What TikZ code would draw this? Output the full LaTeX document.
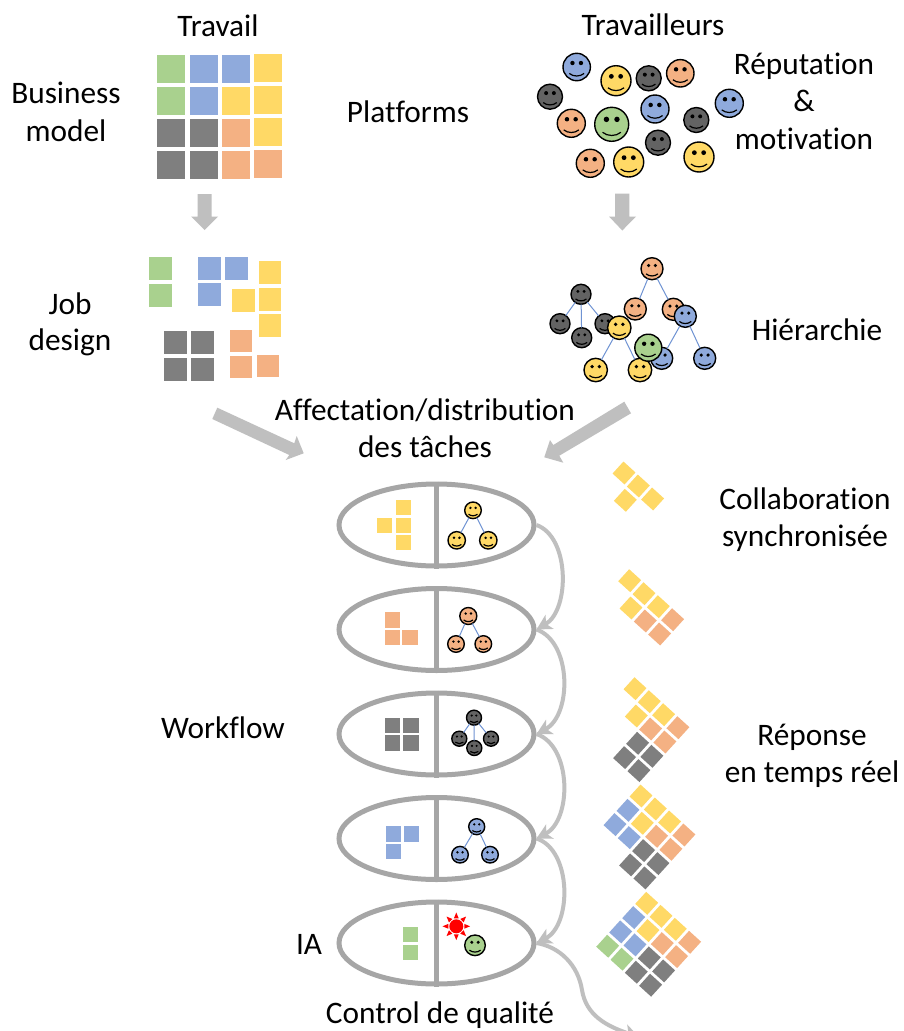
\documentclass[tikz,border=0pt]{standalone}
\usepackage{fontspec}
\setmainfont[Ligatures=NoCommon,RawFeature={-liga;-clig;-dlig}]{Carlito}
\usetikzlibrary{shapes.geometric,arrows.meta}
\definecolor{cgreen}{HTML}{A9D18E}
\definecolor{cblue}{HTML}{8FAADC}
\definecolor{cyellow}{HTML}{FFD966}
\definecolor{cgray}{HTML}{7F7F7F}
\definecolor{corange}{HTML}{F4B183}
\definecolor{fgray}{HTML}{636363}
\definecolor{ringgray}{HTML}{A6A6A6}
\definecolor{flowgray}{HTML}{BFBFBF}
\definecolor{linkblue}{HTML}{6F93D3}
\tikzset{
  lbl/.style={font=\fontsize{31.3}{36}\selectfont,inner sep=0pt,anchor=base,text=black},
  facenode/.style={circle,draw=black,line width=1.4pt,inner sep=0pt,outer sep=0pt},
  ringnode/.style={ellipse,draw=ringgray,line width=5pt,minimum width=195pt,minimum height=82pt,inner sep=0pt},
  divider/.style={draw=ringgray,line width=5pt},
  flow/.style={draw=flowgray,line width=4pt,-{Stealth[length=15pt,width=16pt,inset=4pt]}},
  link/.style={draw=linkblue,line width=1pt},
  bigarrow/.style={fill=flowgray,draw=none},
}
% square: x y size colour
\newcommand\sqr[4]{\fill[#4] (#1,#2) rectangle ++(#3,#3);}
% diamond in rotated grid
\newcommand\dmd[3]{\fill[#3] (#1-.42,#2-.42) -- (#1+.42,#2-.42) -- (#1+.42,#2+.42) -- (#1-.42,#2+.42) -- cycle;}
% smiley: name x y r colour
\newcommand\smiley[5]{%
  \node[facenode,minimum size=2*#4 pt,fill=#5] (#1) at (#2,#3) {};
  \begin{scope}[shift={(#1.center)},x=#4pt,y=-#4pt]
    \fill[black] (-.31,-.29) circle [radius=.16];
    \fill[black] (.31,-.29) circle [radius=.16];
    \draw[black,line width=1.2pt] (-.54,.47) .. controls (-.25,.72) and (.25,.72) .. (.54,.47);
  \end{scope}}
\newcommand\yellowcluster{\dmd{0}{0}{cyellow}\dmd{1}{0}{cyellow}\dmd{1}{1}{cyellow}\dmd{2}{0}{cyellow}}
\newcommand\orangecluster{\dmd{2}{1}{corange}\dmd{3}{0}{corange}\dmd{3}{1}{corange}}
\newcommand\graycluster{\dmd{2}{2}{cgray}\dmd{2}{3}{cgray}\dmd{3}{2}{cgray}\dmd{3}{3}{cgray}}
\newcommand\bluecluster{\dmd{0}{1}{cblue}\dmd{0}{2}{cblue}\dmd{1}{2}{cblue}}
\newcommand\greencluster{\dmd{0}{3}{cgreen}\dmd{1}{3}{cgreen}}
\tikzset{grid at/.style={shift={#1},x={(14.3pt,-13pt)},y={(-13pt,-14.3pt)}}}
\begin{document}
\begin{tikzpicture}[x=1pt,y=-1pt]
\useasboundingbox (0,0) rectangle (904,1031);
\clip (0,0) rectangle (904,1031);
\fill[white] (0,0) rectangle (904,1031);

% top grid
\sqr{157}{55}{27.5}{cgreen}\sqr{190}{55}{27.5}{cblue}\sqr{222}{55}{27.5}{cblue}\sqr{254}{54}{27.5}{cyellow}
\sqr{157}{87}{27.5}{cgreen}\sqr{190}{87}{27.5}{cblue}\sqr{222}{87}{27.5}{cyellow}\sqr{254}{86}{27.5}{cyellow}
\sqr{157}{119}{27.5}{cgray}\sqr{190}{119}{27.5}{cgray}\sqr{222}{119}{27.5}{corange}\sqr{254}{118}{27.5}{cyellow}
\sqr{157}{151}{27.5}{cgray}\sqr{190}{151}{27.5}{cgray}\sqr{222}{151}{27.5}{corange}\sqr{254}{150}{27.5}{corange}

% job design squares
\sqr{149}{257}{22.5}{cgreen}\sqr{149}{284}{22.5}{cgreen}
\sqr{198}{257}{22.5}{cblue}\sqr{225}{257}{22.5}{cblue}\sqr{198}{283}{22.5}{cblue}
\sqr{258.5}{261}{22.5}{cyellow}\sqr{258.5}{288}{22.5}{cyellow}\sqr{258.5}{314}{22.5}{cyellow}\sqr{232}{289}{22.5}{cyellow}
\sqr{164}{331}{22.5}{cgray}\sqr{191}{331}{22.5}{cgray}\sqr{164}{358}{22.5}{cgray}\sqr{191}{358}{22.5}{cgray}
\sqr{230}{330}{22}{corange}\sqr{230}{356}{22}{corange}\sqr{257}{355}{22}{corange}

% block arrows
\fill[bigarrow] (197.7,194) -- (211.7,194) -- (211.7,216.5) -- (218.2,216.5) -- (204.7,230) -- (191.2,216.5) -- (197.7,216.5) -- cycle;
\fill[bigarrow] (615,193.5) -- (629.3,193.5) -- (629.3,216.5) -- (636,216.5) -- (622.3,230.5) -- (609,216.5) -- (615,216.5) -- cycle;
\fill[bigarrow] (217.3,407.7) -- (294.3,443.3) -- (296.7,436) -- (303.7,453.3) -- (285.7,460) -- (289.3,455) -- (212.3,419) -- cycle;
\fill[bigarrow] (624.3,401.7) -- (631,413.3) -- (559.3,455.7) -- (563.3,462.7) -- (544.3,457.3) -- (550,440) -- (553.3,445) -- cycle;

% workers cloud
\smiley{wa}{576.7}{67}{13.7}{cblue}
\smiley{wb}{616}{80.7}{15}{cyellow}
\smiley{wc}{648.7}{78.3}{12.5}{fgray}
\smiley{wd}{680.3}{73.3}{13.7}{corange}
\smiley{we}{550}{96.7}{12.5}{fgray}
\smiley{wf}{729.3}{103.3}{14}{cblue}
\smiley{wg}{571.3}{123.3}{14}{corange}
\smiley{wh}{611.7}{124.3}{17}{cgreen}
\smiley{wi}{655}{109}{14}{cblue}
\smiley{wj}{696.3}{120}{12.5}{fgray}
\smiley{wk}{658}{142.7}{12.5}{fgray}
\smiley{wl}{590.3}{163.3}{14}{corange}
\smiley{wm}{628.7}{162}{15}{cyellow}
\smiley{wn}{699}{157}{15}{cyellow}

% hierarchy
\smiley{oa}{652}{268.7}{11}{corange}
\smiley{ob}{635.3}{309}{11}{corange}
\smiley{oc}{673.3}{309.3}{11}{corange}
\draw[link] (oa)--(ob) (oa)--(oc);
\smiley{bb}{661.7}{358.3}{11}{cblue}
\smiley{bc}{704.7}{358.3}{11}{cblue}
\smiley{ba}{685.3}{316.3}{11}{cblue}
\draw[link] (ba)--(bb) (ba)--(bc);
\smiley{ga}{581}{294.3}{10}{fgray}
\smiley{gb}{560}{323.7}{10}{fgray}
\smiley{gc}{581.7}{337.7}{10}{fgray}
\smiley{gd}{605}{323.7}{10}{fgray}
\draw[link] (ga)--(gb) (ga)--(gc) (ga)--(gd);
\smiley{yb}{595.7}{370}{11.7}{cyellow}
\smiley{yc}{640}{370}{11.7}{cyellow}
\smiley{ya}{619.3}{327.7}{11.7}{cyellow}
\draw[link] (ya)--(yb) (ya)--(yc);
\smiley{ha}{648.3}{347.7}{13.5}{cgreen}

% workflow ellipses
\node[ringnode] (e1) at (436.5,525) {};
\node[ringnode] (e2) at (436.5,629.5) {};
\node[ringnode] (e3) at (436.5,734) {};
\node[ringnode] (e4) at (436.5,838.5) {};
\node[ringnode] (e5) at (436.5,943) {};
\foreach \n in {e1,e2,e3,e4,e5} \draw[divider] (\n.north) -- (\n.south);

% workflow squares
\sqr{395.7}{500}{15.3}{cyellow}\sqr{395.7}{517.7}{15.3}{cyellow}\sqr{395.7}{535}{15.3}{cyellow}\sqr{377}{517.7}{15.3}{cyellow}
\sqr{385}{612.3}{15.3}{corange}\sqr{385}{630}{15.3}{corange}\sqr{402.3}{630}{15.3}{corange}
\sqr{385}{717.7}{15.3}{cgray}\sqr{403.3}{717.7}{15.3}{cgray}\sqr{385}{735.3}{15.3}{cgray}\sqr{403.3}{735.3}{15.3}{cgray}
\sqr{385.7}{826.3}{15.3}{cblue}\sqr{404}{826.3}{15.3}{cblue}\sqr{385.7}{844}{15.3}{cblue}
\sqr{403}{927}{15.3}{cgreen}\sqr{403}{944.7}{15.3}{cgreen}

% workflow teams
\smiley{ya1}{473}{510.3}{8.3}{cyellow}
\smiley{yb1}{456.7}{540.3}{8.7}{cyellow}
\smiley{yc1}{488.3}{540.3}{8.7}{cyellow}
\draw[link] (ya1)--(yb1) (ya1)--(yc1);
\smiley{oa1}{468.3}{616}{8.5}{corange}
\smiley{ob1}{456}{644}{8.3}{corange}
\smiley{oc1}{483.3}{644}{8.3}{corange}
\draw[link] (oa1)--(ob1) (oa1)--(oc1);
\smiley{ga1}{474}{717.7}{7.5}{fgray}
\smiley{gb1}{459.3}{738.7}{7.5}{fgray}
\smiley{gc1}{474.3}{748}{7.5}{fgray}
\smiley{gd1}{491}{738.7}{7.5}{fgray}
\draw[link] (ga1)--(gb1) (ga1)--(gc1) (ga1)--(gd1);
\smiley{ba1}{476.7}{826.7}{8}{cblue}
\smiley{bb1}{460}{854.7}{8.3}{cblue}
\smiley{bc1}{490}{854.7}{8.3}{cblue}
\draw[link] (ba1)--(bb1) (ba1)--(bc1);
\smiley{ga2}{475}{945.3}{10.3}{cgreen}

% sun
\begin{scope}[shift={(456.3,926.3)}]
\fill[red] (0,0) circle [radius=7];
\foreach \a in {0,45,...,315}
  \fill[red,rotate=\a] (8,-2.4) -- (13.8,0) -- (8,2.4) -- cycle;
\end{scope}

% flow curves
\draw[flow] (e1.east) .. controls (570,537) and (570,610) .. (e2.east);
\draw[flow] (e2.east) .. controls (572,642) and (572,715) .. (e3.east);
\draw[flow] (e3.east) .. controls (572,746) and (572,820) .. (e4.east);
\draw[flow] (e4.east) .. controls (572,850) and (572,925) .. (e5.east);
\coordinate (out) at (639,1037);
\draw[flow] (e5.east) .. controls (560,947) and (578,965) .. (582,990) .. controls (586,1015) and (606,1026) .. (out);

% diamond clusters
\begin{scope}[grid at={(624,473)}] \yellowcluster \end{scope}
\begin{scope}[grid at={(629.7,580.7)}] \yellowcluster \orangecluster \end{scope}
\begin{scope}[grid at={(635,688.7)}] \yellowcluster \orangecluster \graycluster \end{scope}
\begin{scope}[grid at={(641,796)}] \yellowcluster \orangecluster \graycluster \bluecluster \end{scope}
\begin{scope}[grid at={(646.7,903.3)}] \yellowcluster \orangecluster \graycluster \bluecluster \greencluster \end{scope}

% labels
\node[lbl] (t1) at (218,36.5) {Travail};
\node[lbl] (t2) at (653,35.5) {Travailleurs};
\node[lbl] (t3) at (66,103.5) {Business};
\node[lbl] (t4) at (66,141) {model};
\node[lbl] (t5) at (408,122) {Platforms};
\node[lbl] (t6) at (804,74) {Réputation};
\node[lbl] (t7) at (804,111) {\&};
\node[lbl] (t8) at (804,149) {motivation};
\node[lbl] (t9) at (70,314) {Job};
\node[lbl] (t10) at (70,350) {design};
\node[lbl] (t11) at (817,340) {Hiérarchie};
\node[lbl] (t12) at (425,420) {Affectation/distribution};
\node[lbl] (t13) at (425,457) {des tâches};
\node[lbl] (t14) at (805,509) {Collaboration};
\node[lbl] (t15) at (805,546) {synchronisée};
\node[lbl] (t16) at (223,738) {Workflow};
\node[lbl] (t17) at (812,745) {Réponse};
\node[lbl] (t18) at (812,782) {en temps réel};
\node[lbl] (t19) at (309,954) {IA};
\node[lbl] (t20) at (440,1023) {Control de qualité};
\end{tikzpicture}
\end{document}
